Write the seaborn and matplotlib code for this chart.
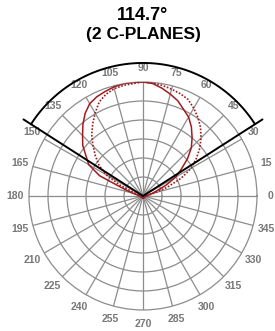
import numpy as np
import pandas as pd
import seaborn as sns
import matplotlib
matplotlib.use("Agg")
import matplotlib.pyplot as plt

# angles in degrees (upper half, then a tiny back lobe)
angles_deg = list(range(0, 185, 5)) + [270, 360]

# relative intensity, C0-C180 plane (solid)
plane_a = [0.03, 0.04, 0.05, 0.08, 0.12, 0.22, 0.33, 0.41, 0.51, 0.60,
           0.67, 0.74, 0.80, 0.84, 0.89, 0.925, 0.96, 0.99, 1.00, 1.00,
           1.00, 0.99, 0.975, 0.96, 0.935, 0.885, 0.82, 0.75, 0.69, 0.61,
           0.55, 0.42, 0.17, 0.09, 0.05, 0.04, 0.03, 0.02, 0.03]

# relative intensity, C90-C270 plane (dotted)
plane_b = [0.03, 0.04, 0.06, 0.11, 0.23, 0.37, 0.49, 0.57, 0.65, 0.72,
           0.785, 0.84, 0.89, 0.935, 0.955, 0.97, 0.985, 0.995, 1.00, 0.99,
           0.985, 0.975, 0.95, 0.91, 0.84, 0.77, 0.70, 0.62, 0.545, 0.47,
           0.38, 0.22, 0.08, 0.05, 0.04, 0.03, 0.03, 0.02, 0.03]

beam_angle = 114.7
title_lines = ["114.7\u00b0", "(2 C-PLANES)"]
tick_angles = list(range(0, 360, 15))

sns.set_style("white")

grid_col = "#8c8c8c"
label_col = "#777777"
red = "#a01a1f"

fig = plt.figure(figsize=(2.75, 3.31), dpi=100)
ax = fig.add_axes([0.1055, 0.0634, 0.829, 0.689], projection="polar")

df = pd.DataFrame({
    "theta": np.deg2rad(angles_deg),
    "a": plane_a,
    "b": plane_b,
})

sns.lineplot(data=df, x="theta", y="a", ax=ax, estimator=None, sort=False,
             color=red, lw=1.1, zorder=4)
sns.lineplot(data=df, x="theta", y="b", ax=ax, estimator=None, sort=False,
             color=red, lw=1.2, linestyle=(0, (1, 1)), zorder=4)

# beam angle lines + arc
half = beam_angle / 2
t0, t1 = np.deg2rad(90 - half), np.deg2rad(90 + half)
arc_t = np.linspace(t0, t1, 120)
ax.plot(arc_t, np.full_like(arc_t, 1.167), color="black", lw=1.4,
        clip_on=False, zorder=5)
for t in (t0, t1):
    ax.plot([t, t], [0, 1.245], color="black", lw=1.4, clip_on=False,
            zorder=5)

ax.set_ylim(0, 1)
ax.set_xticks(np.deg2rad(tick_angles))
ax.set_xticklabels([])
ax.set_yticks(np.arange(1, 6) / 6)
ax.set_yticklabels([])
ax.tick_params(length=0)
ax.set_xlabel("")
ax.set_ylabel("")
ax.grid(True, color=grid_col, lw=0.9)
ax.spines["polar"].set_color(grid_col)
ax.spines["polar"].set_linewidth(0.9)

for a in tick_angles:
    ax.text(np.deg2rad(a), 1.12, str(a), ha="center", va="center",
            color=label_col, fontweight="bold", fontsize=7.5,
            family="Liberation Sans", clip_on=False)

fig.text(0.52, 1 - 15 / 331, title_lines[0], ha="center", va="center",
         fontsize=13, fontweight="bold", family="Liberation Sans",
         color="black")
fig.text(0.52, 1 - 35 / 331, title_lines[1], ha="center", va="center",
         fontsize=12.5, fontweight="bold", family="Liberation Sans",
         color="black")

fig.savefig("out.png", dpi=100)
